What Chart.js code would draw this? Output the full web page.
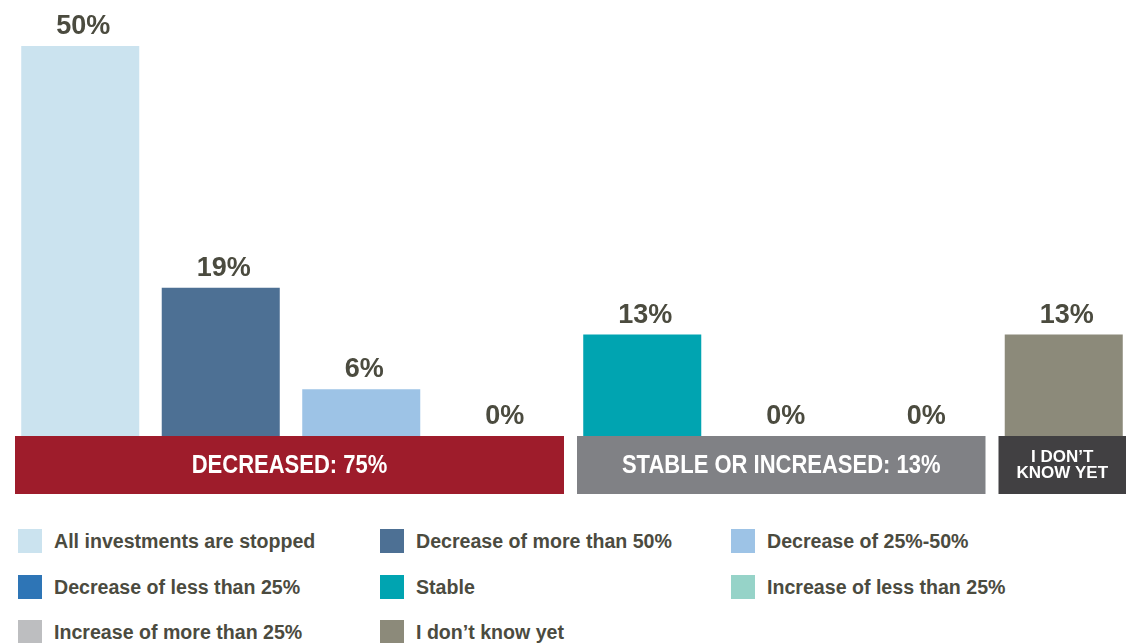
<!DOCTYPE html>
<html>
<head>
<meta charset="utf-8">
<script src="https://cdn.jsdelivr.net/npm/chart.js@4.4.0/dist/chart.umd.min.js"></script>
<style>
    body { margin: 0; background: #ffffff; width: 1137px; height: 643px; overflow: hidden; position: relative; font-family: 'Liberation Sans', Arial, sans-serif; }
    #chartWrap { position: absolute; left: 0; top: 0; width: 1137px; height: 500px; }
    #legend { position: absolute; left: 0; top: 0; width: 1137px; }
    .item { position: absolute; height: 24px; display: flex; align-items: center; white-space: nowrap; }
    .swatch { width: 24px; height: 24px; margin-right: 12px; flex: none; }
    .item span { font-weight: bold; font-size: 19.6px; color: #4b4b3f; }
</style>
</head>
<body>
<div id="chartWrap"><canvas id="investChart"></canvas></div>
<div id="legend"></div>
<script>
    // Données
    const categories = [
        'All investments are stopped',
        'Decrease of more than 50%',
        'Decrease of 25%-50%',
        'Decrease of less than 25%',
        'Stable',
        'Increase of less than 25%',
        'Increase of more than 25%',
        'I don\u2019t know yet'
    ];
    const values = [50, 19, 6, 0, 13, 0, 0, 13];
    const barColors = ['#cbe3ef', '#4d7094', '#9dc3e6', '#2e75b6', '#00a4b1', '#96d3c8', '#bdbec0', '#8c8a7a'];

    // Groupes (bandeaux sous les barres)
    const groupLabels = ['DECREASED: 75%', 'STABLE OR INCREASED: 13%', ['I DON\u2019T', 'KNOW YET']];
    const groupStart = [0, 4, 7];
    const groupEnd = [3, 6, 7];
    const groupColors = ['#9e1c2b', '#808185', '#414042'];

    const textColor = '#4b4b3f';
    const fontFamily = "'Liberation Sans', Arial, sans-serif";

    // Étiquettes de valeur au-dessus des barres
    const valueLabels = {
        id: 'valueLabels',
        afterDatasetsDraw(chart) {
            const ctx = chart.ctx;
            const meta = chart.getDatasetMeta(0);
            ctx.save();
            ctx.font = 'bold 27px ' + fontFamily;
            ctx.fillStyle = textColor;
            ctx.textAlign = 'center';
            ctx.textBaseline = 'alphabetic';
            meta.data.forEach(function (bar, i) {
                ctx.fillText(values[i] + '%', bar.x + 3, bar.y - 12);
            });
            ctx.restore();
        }
    };

    // Bandeaux de groupes
    const groupBands = {
        id: 'groupBands',
        afterDatasetsDraw(chart) {
            const ctx = chart.ctx;
            const x = chart.scales.x;
            const area = chart.chartArea;
            const catW = x.width / categories.length;
            const padL = 5, padR = 8;
            const top = area.bottom;
            const h = 58;
            ctx.save();
            groupLabels.forEach(function (label, g) {
                const x0 = x.getPixelForValue(groupStart[g]) - catW / 2 + padL;
                const x1 = x.getPixelForValue(groupEnd[g]) + catW / 2 - padR;
                ctx.fillStyle = groupColors[g];
                ctx.fillRect(x0, top, x1 - x0, h);
                ctx.fillStyle = '#ffffff';
                ctx.textAlign = 'center';
                ctx.textBaseline = 'middle';
                const cx = (x0 + x1) / 2;
                if (Array.isArray(label)) {
                    ctx.font = 'bold 17px ' + fontFamily;
                    ctx.fillText(label[0], cx, top + 21);
                    ctx.fillText(label[1], cx, top + 37);
                } else {
                    ctx.save();
                    ctx.translate(cx, top + 30);
                    ctx.scale(0.88, 1);
                    ctx.font = 'bold 25px ' + fontFamily;
                    ctx.fillText(label, 0, 0);
                    ctx.restore();
                }
            });
            ctx.restore();
        }
    };

    new Chart(document.getElementById('investChart'), {
        type: 'bar',
        data: {
            labels: categories,
            datasets: [{
                data: values,
                backgroundColor: barColors,
                borderWidth: 0,
                barPercentage: 0.84,
                categoryPercentage: 1
            }]
        },
        options: {
            responsive: true,
            maintainAspectRatio: false,
            animation: false,
            layout: { padding: { top: 7, bottom: 64, left: 10, right: 3 } },
            plugins: { legend: { display: false }, tooltip: { enabled: false } },
            scales: {
                x: { display: false },
                y: { display: false, min: 0, max: 55 }
            }
        },
        plugins: [groupBands, valueLabels]
    });

    // Légende en HTML (3 colonnes)
    const legendCols = [18, 380, 731];
    const legendRows = [529, 575, 620];
    const legend = document.getElementById('legend');
    categories.forEach(function (name, i) {
        const el = document.createElement('div');
        el.className = 'item';
        el.style.left = legendCols[i % 3] + 'px';
        el.style.top = legendRows[Math.floor(i / 3)] + 'px';
        el.innerHTML = '<div class="swatch" style="background:' + barColors[i] + '"></div><span>' + name + '</span>';
        legend.appendChild(el);
    });
</script>
</body>
</html>
